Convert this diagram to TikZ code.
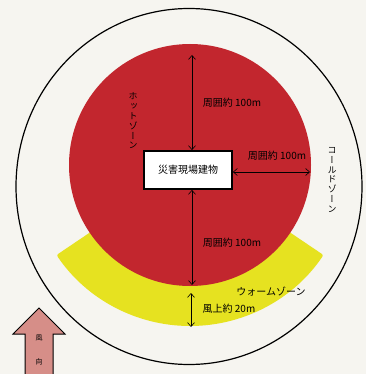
\documentclass[tikz,border=0pt]{standalone}
\usepackage{fontspec}
\usetikzlibrary{arrows.meta}
\newfontfamily\jp{Noto Sans CJK JP}
\newfontfamily\jpv[RawFeature={+vert}]{Noto Sans CJK JP}
\definecolor{bgc}{RGB}{246,245,240}
\definecolor{hotred}{RGB}{194,38,46}
\definecolor{warmy}{RGB}{230,226,32}
\definecolor{windpink}{RGB}{214,142,136}
\tikzset{
  arr/.style={{Straight Barb[length=4pt,width=7pt]}-{Straight Barb[length=4pt,width=7pt]}, line width=0.6pt, black},
  lbl/.style={font=\jp\fontsize{10}{11}\selectfont, inner sep=0pt},
  vlbl/.style={font=\jpv\fontsize{9}{9.8}\selectfont, align=center, inner sep=0pt},
}
\begin{document}
\begin{tikzpicture}[x=1pt,y=-1pt]
\useasboundingbox (0,0) rectangle (366,374);
\fill[bgc] (0,0) rectangle (366,374);
% outer circle (cold zone boundary)
\draw[line width=1.2pt] (189,186.5) ellipse [x radius=173, y radius=178];
% warm zone sector
\fill[warmy, rounded corners=2pt] (190,165) -- ++(34:161) arc[start angle=34, end angle=146, radius=161] -- cycle;
% hot zone
\fill[hotred] (190,165) circle [radius=121];
% building
\node[draw, line width=1.8pt, fill=white, minimum width=88pt, minimum height=38pt, font=\jp\fontsize{10}{12}\selectfont] (bldg) at (188,170) {災害現場建物};
% arrow ends
\coordinate (topend) at (192,55);
\coordinate (botend) at (192,285);
\coordinate (rightend) at (310,172);
\coordinate (w1) at (191,293);
\coordinate (w2) at (191,327);
\draw[arr] (topend) -- (bldg.north -| topend);
\draw[arr] (bldg.south -| botend) -- (botend);
\draw[arr] (bldg.east |- rightend) -- (rightend);
\draw[arr] (w1) -- (w2);
% labels
\node[lbl] (l1) at (232,103) {周囲約 100m};
\node[lbl] (l2) at (277,156) {周囲約 100m};
\node[lbl] (l3) at (232,243) {周囲約 100m};
\node[lbl] (warm) at (271,292) {ウォームゾーン};
\node[lbl] (up20) at (229,309) {風上約 20m};
\node[vlbl] (hot) at (133,121) {ホ\\ッ\\ト\\ゾ\\ー\\ン};
\node[vlbl] (cold) at (332,180) {コ\\ー\\ル\\ド\\ゾ\\ー\\ン};
% wind arrow
\draw[fill=windpink, line width=1pt] (39,308) -- (65,334) -- (53,334) -- (53,380) -- (25,380) -- (25,334) -- (13,334) -- cycle;
\node[font=\jp\fontsize{7}{8}\selectfont, inner sep=0pt] (wind1) at (39,338) {風};
\node[font=\jp\fontsize{7}{8}\selectfont, inner sep=0pt] (wind2) at (39,362) {向};
\end{tikzpicture}
\end{document}
